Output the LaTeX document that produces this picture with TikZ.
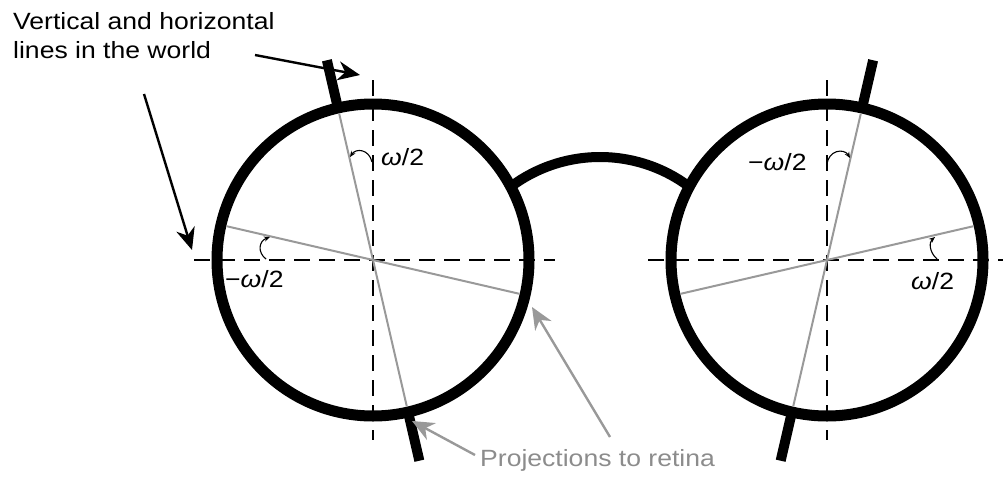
\documentclass[tikz,border=0pt]{standalone}
\usepackage{fontspec}
\newfontfamily\lab[FakeStretch=1.13]{Liberation Sans}
\usetikzlibrary{arrows.meta}
\definecolor{rgray}{gray}{0.6}
\definecolor{tgray}{gray}{0.55}
\begin{document}
\begin{tikzpicture}[x=1pt,y=-1pt,
  ring/.style={line width=11pt},
  bridge/.style={line width=10pt},
  bar/.style={line width=10pt},
  dsh/.style={line width=2.6pt, dash pattern=on 16pt off 9pt},
  proj/.style={rgray, line width=2pt},
  bigarrow/.style={line width=2.4pt, -{Stealth[length=22pt,width=19pt,inset=7pt]}},
  garrow/.style={bigarrow, rgray},
  tinyarrow/.style={line width=1.1pt, -{Stealth[length=6pt,width=5pt]}},
  lbl/.style={font=\lab\fontsize{23.5}{29}\selectfont, inner sep=0pt, anchor=base west}]
\useasboundingbox (0,0) rectangle (1003,477);
\coordinate (cL) at (373,260);
\coordinate (cR) at (827,260);
% dashed world lines
\coordinate (hL1) at (194,260); \coordinate (hL2) at (555,260);
\coordinate (hR1) at (648,260); \coordinate (hR2) at (1003,260);
\coordinate (vL1) at (373,80);  \coordinate (vL2) at (373,440);
\coordinate (vR1) at (827,80);  \coordinate (vR2) at (827,440);
\draw[dsh] (hL1) -- (hL2);
\draw[dsh] (hR1) -- (hR2);
\draw[dsh] (vL1) -- (vL2);
\draw[dsh] (vR1) -- (vR2);
% projections
\draw[proj] ([shift={(-103:150)}]cL) -- ([shift={(77:150)}]cL);
\draw[proj] ([shift={(193:150)}]cL) -- ([shift={(13:150)}]cL);
\draw[proj] ([shift={(-77:150)}]cR) -- ([shift={(103:150)}]cR);
\draw[proj] ([shift={(-13:150)}]cR) -- ([shift={(167:150)}]cR);
% bridge
\draw[bridge] (600,306) ++(-128:149) arc[start angle=-128, end angle=-52, radius=149];
% rims
\draw[ring] (cL) circle[radius=156];
\draw[ring] (cR) circle[radius=156];
% bars
\draw[bar] ([shift={(-103:152)}]cL) -- ([shift={(-103:205)}]cL);
\draw[bar] ([shift={(77:152)}]cL) -- ([shift={(77:206)}]cL);
\draw[bar] ([shift={(-77:152)}]cR) -- ([shift={(-77:205)}]cR);
\draw[bar] ([shift={(103:152)}]cR) -- ([shift={(103:206)}]cR);
% angle arrows
\draw[tinyarrow] (372,162) .. controls (369,149) and (356,148) .. (350,157);
\draw[tinyarrow] (266,259) .. controls (257,252) and (259,241) .. (270,237);
\draw[tinyarrow] (827,165) .. controls (828,150) and (844,148) .. (850,158);
\draw[tinyarrow] (937,259) .. controls (929,252) and (929,242) .. (935,237);
% labels
\node[lbl] (t1) at (13,29) {Vertical and horizontal};
\node[lbl] (t2) at (13,58) {lines in the world};
\node[lbl, text=tgray] (t3) at (480,466) {Projections to retina};
\node[lbl] (w1) at (381,165) {{\itshape ω}/2};
\node[lbl] (w2) at (225,287) {−{\itshape ω}/2};
\node[lbl] (w3) at (748,170) {−{\itshape ω}/2};
\node[lbl] (w4) at (911,289) {{\itshape ω}/2};
% pointer arrows
\coordinate (a1s) at (255,55);  \coordinate (a1e) at (360,75);
\coordinate (a2s) at (144,94);  \coordinate (a2e) at (192,250);
\coordinate (g1s) at (475,455); \coordinate (g1e) at (412,421);
\coordinate (g2s) at (610,437); \coordinate (g2e) at (532,307);
\draw[bigarrow] (a1s) -- (a1e);
\draw[bigarrow] (a2s) -- (a2e);
\draw[garrow] (g1s) -- (g1e);
\draw[garrow] (g2s) -- (g2e);
\end{tikzpicture}
\end{document}
